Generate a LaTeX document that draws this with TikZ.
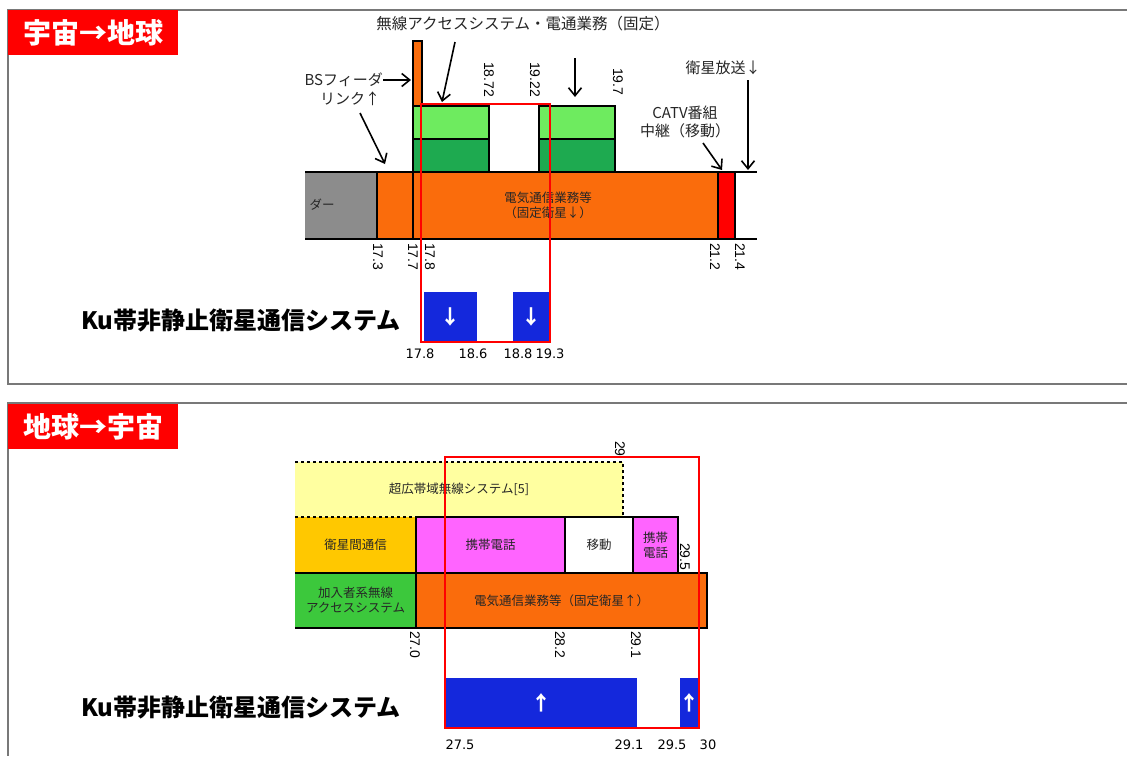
\documentclass[tikz,border=0pt]{standalone}
\usepackage{fontspec}
\setmainfont{Noto Sans CJK JP}
\newfontfamily\num{Liberation Sans}
\newfontfamily\ver{DejaVu Sans}
\usetikzlibrary{arrows.meta}
\definecolor{cor}{RGB}{250,108,12}
\definecolor{cgray}{RGB}{140,140,140}
\definecolor{clg}{RGB}{110,235,95}
\definecolor{cdg}{RGB}{30,170,80}
\definecolor{cblue}{RGB}{20,40,220}
\definecolor{cly}{RGB}{255,255,160}
\definecolor{cyo}{RGB}{255,200,0}
\definecolor{cmag}{RGB}{255,100,255}
\definecolor{cgr}{RGB}{60,200,60}
\definecolor{cframe}{RGB}{120,120,120}
\tikzset{
 lbl/.style={font=\fontsize{15}{18}\selectfont, text=black!85, inner sep=0, align=center},
 inlbl/.style={font=\fontsize{12.5}{15}\selectfont, text=black!85, inner sep=0, align=center},
 rlbl/.style={rotate=-90, anchor=west, font=\num\fontsize{14}{14}\selectfont, inner sep=0},
 blbl/.style={font=\ver\fontsize{13}{13}\selectfont, inner sep=0},
 fb/.style={anchor=north west, inner sep=0, outer sep=0, draw=none},
 arr/.style={-{Straight Barb[length=8pt,width=13pt]}, line width=1.6pt},
 bl/.style={line width=1.2pt, black},
 redbox/.style={draw=red, line width=2.2pt},
 ttl/.style={fill=red, text=white, font=\bfseries\fontsize{28}{28}\selectfont, minimum width=170pt, minimum height=45pt, anchor=north west, inner sep=0},
 ku/.style={font=\bfseries\fontsize{24}{24}\selectfont, inner sep=0},
 warr/.style={text=white, font=\bfseries\fontsize{20}{20}\selectfont, inner sep=0},
}
\begin{document}
\begin{tikzpicture}[x=1pt,y=-1pt]
\useasboundingbox[fill=white] (0,0) rectangle (1127,756);
% frames
\draw[cframe, line width=1.5pt] (1127,10) -- (8,10) -- (8,384) -- (1127,384);
\draw[cframe, line width=1.5pt] (1127,403) -- (8,403) -- (8,756);
\node[ttl] (t1) at (8,10) {宇宙→地球};
\node[ttl] (t2) at (8,404) {地球→宇宙};

% ===== top panel =====
\node[fb, fill=cgray, minimum width=72pt, minimum height=67pt] (gr) at (305,172) {};
\node[fb, fill=cor, minimum width=341pt, minimum height=67pt] (fso) at (377,172) {};
\node[fb, fill=red, minimum width=17pt, minimum height=67pt] (catv) at (718,172) {};
\node[fb, fill=cor, draw=black, line width=1.2pt, minimum width=9pt, minimum height=66pt] (bsf) at (413,41) {};
\node[fb, fill=clg, draw=black, line width=1.2pt, minimum width=76pt, minimum height=33pt] (g1a) at (413,106) {};
\node[fb, fill=cdg, draw=black, line width=1.2pt, minimum width=76pt, minimum height=33pt] (g1b) at (413,139) {};
\node[fb, fill=clg, draw=black, line width=1.2pt, minimum width=76pt, minimum height=33pt] (g2a) at (539,106) {};
\node[fb, fill=cdg, draw=black, line width=1.2pt, minimum width=76pt, minimum height=33pt] (g2b) at (539,139) {};
\draw[bl] (305,172) -- (757,172);
\draw[bl] (305,239) -- (757,239);
\draw[bl] (377,172) -- (377,239);
\draw[bl] (413,172) -- (413,239);
\draw[bl] (718,172) -- (718,239);
\draw[bl] (735,172) -- (735,239);
\node[inlbl] (grt) at (322,205) {ダー};
\node[inlbl] (fsot) at (548,205) {電気通信業務等\\（固定衛星↓）};

% blue boxes
\node[fb, fill=cblue, minimum width=53pt, minimum height=50pt] (b1) at (424,292) {};
\node[fb, fill=cblue, minimum width=36pt, minimum height=50pt] (b2) at (513,292) {};
\node[warr] at (b1.center) {↓};
\node[warr] at (b2.center) {↓};
\draw[redbox] (421,104) rectangle (550,342);

% rotated labels
\node[rlbl] at (378,243) {17.3};
\node[rlbl] at (413,243) {17.7};
\node[rlbl] at (430,243) {17.8};
\node[rlbl] at (715,243) {21.2};
\node[rlbl] at (740,243) {21.4};
\node[rlbl] at (489,62) {18.72};
\node[rlbl] at (535,62) {19.22};
\node[rlbl] at (618,68) {19.7};
% bottom labels
\node[blbl] at (420,354) {17.8};
\node[blbl] at (473,354) {18.6};
\node[blbl] at (518,354) {18.8};
\node[blbl] at (550,354) {19.3};

% annotations
\node[lbl, font=\fontsize{15.5}{18}\selectfont] (musen) at (523,24) {無線アクセスシステム・電通業務（固定）};
\coordinate (m1s) at (455,42); \coordinate (m1e) at (442,102);
\draw[arr] (m1s) -- (m1e);
\coordinate (m2s) at (575,58); \coordinate (m2e) at (575,97);
\draw[arr] (m2s) -- (m2e);
\node[lbl, anchor=east] (bs1) at (383,80) {BSフィーダ};
\coordinate (bse) at (411,80);
\draw[arr] (bs1.east) -- (bse);
\node[lbl] (bs2) at (350,99) {リンク↑};
\coordinate (bls) at (360,113); \coordinate (ble) at (385,164);
\draw[arr] (bls) -- (ble);
\node[lbl] (catvt) at (685,122) {CATV番組\\中継（移動）};
\coordinate (cs) at (703,143); \coordinate (ce) at (722,170);
\draw[arr] (cs) -- (ce);
\node[lbl] (eisei) at (723,68) {衛星放送↓};
\coordinate (es) at (748,80); \coordinate (ee) at (748,170);
\draw[arr] (es) -- (ee);

\node[ku] (ku1) at (241,321) {Ku帯非静止衛星通信システム};

% ===== bottom panel =====
\node[fb, fill=cly, minimum width=328pt, minimum height=55pt] (uwb) at (295,462) {};
\node[fb, fill=cyo, minimum width=121pt, minimum height=56pt] (isl) at (295,517) {};
\node[fb, fill=cmag, minimum width=149pt, minimum height=56pt] (mob1) at (416,517) {};
\node[fb, fill=white, minimum width=68pt, minimum height=56pt] (mob) at (565,517) {};
\node[fb, fill=cmag, minimum width=45pt, minimum height=56pt] (mob2) at (633,517) {};
\node[fb, fill=cgr, minimum width=121pt, minimum height=55pt] (acc) at (295,573) {};
\node[fb, fill=cor, minimum width=291pt, minimum height=55pt] (fsu) at (416,573) {};
\draw[bl, dashed] (295,462) -- (623,462) -- (623,517);
\draw[bl, dashed] (295,517) -- (416,517);
\draw[bl] (416,517) -- (678,517) -- (678,573);
\draw[bl] (295,573) -- (707,573) -- (707,628) -- (295,628);
\draw[bl] (416,517) -- (416,628);
\draw[bl] (565,517) -- (565,573);
\draw[bl] (633,517) -- (633,573);
\node[inlbl] at (uwb.center) {超広帯域無線システム[5]};
\node[inlbl] at (isl.center) {衛星間通信};
\node[inlbl] at (mob1.center) {携帯電話};
\node[inlbl] at (mob.center) {移動};
\node[inlbl] at (mob2.center) {携帯\\電話};
\node[inlbl] at (acc.center) {加入者系無線\\アクセスシステム};
\node[inlbl] at (fsu.center) {電気通信業務等（固定衛星↑）};

\node[fb, fill=cblue, minimum width=191pt, minimum height=50pt] (b3) at (446,678) {};
\node[fb, fill=cblue, minimum width=19pt, minimum height=50pt] (b4) at (680,678) {};
\node[warr] at (b3.center) {↑};
\node[warr] at (b4.center) {↑};
\draw[redbox] (445,457) rectangle (699,728);

\node[rlbl] at (620,441) {29};
\node[rlbl] at (685,543) {29.5};
\node[rlbl] at (415,631) {27.0};
\node[rlbl] at (560,631) {28.2};
\node[rlbl] at (636,631) {29.1};
\node[blbl] at (460,745) {27.5};
\node[blbl] at (629,745) {29.1};
\node[blbl] at (672,745) {29.5};
\node[blbl] at (708,745) {30};

\node[ku] (ku2) at (241,708) {Ku帯非静止衛星通信システム};
\end{tikzpicture}
\end{document}
